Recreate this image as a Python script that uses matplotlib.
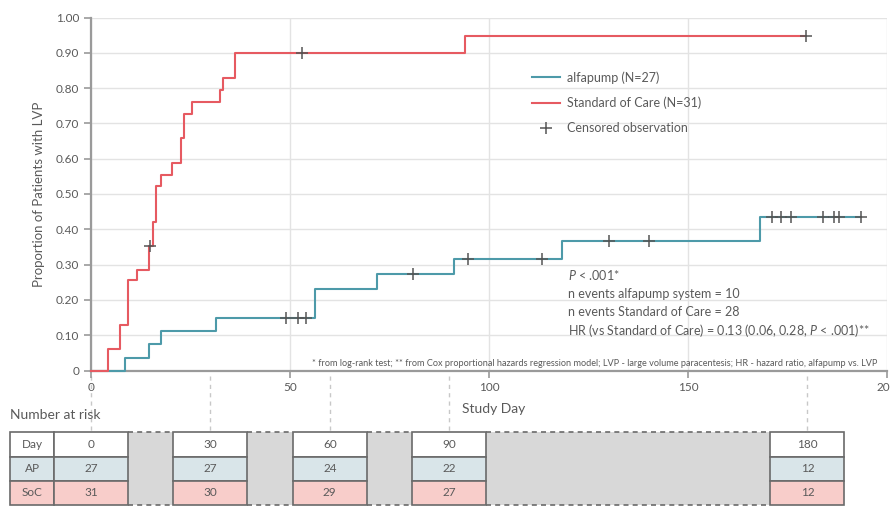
import numpy as np
import matplotlib
matplotlib.use("Agg")
from matplotlib import pyplot as plt
from matplotlib.patches import Rectangle
from matplotlib.lines import Line2D
from matplotlib import transforms

plt.rcParams['font.family'] = ['Lato', 'DejaVu Sans']
plt.rcParams['mathtext.fontset'] = 'custom'
plt.rcParams['mathtext.it'] = 'Lato:italic'
plt.rcParams['mathtext.rm'] = 'Lato'

# cumulative proportion with LVP (step values)
soc_t = [0, 4.3, 7.4, 9.4, 11.5, 14.6, 15.6, 16.3, 17.6, 20.4, 22.6, 23.4, 25.4, 32.4, 33.2, 36.3, 93.9, 179.6]
soc_p = [0, 0.062, 0.128, 0.256, 0.286, 0.352, 0.421, 0.524, 0.555, 0.588, 0.659, 0.727, 0.762, 0.795, 0.828, 0.900, 0.949, 0.949]
soc_cens = [14.9, 52.9, 179.6]

ap_t = [0, 8.5, 14.6, 17.7, 31.3, 56.4, 71.9, 91.3, 118.3, 168.1, 193.4]
ap_p = [0, 0.035, 0.074, 0.111, 0.148, 0.231, 0.273, 0.315, 0.368, 0.434, 0.434]
ap_cens = [49.1, 52.0, 54.1, 80.9, 94.7, 113.2, 130.2, 140.1, 171.1, 173.3, 175.8, 183.8, 186.7, 188.0, 193.4]

# number at risk
risk_days = [0, 30, 60, 90, 180]
ap_risk = [27, 27, 24, 22, 12]
soc_risk = [31, 30, 29, 27, 12]

RED = '#e65a61'
TEAL = '#4d9aa9'
TXT = '#5a5a5a'
AXC = '#9a9a9a'


def step_value(t, times, vals):
    i = np.searchsorted(times, t, side='right') - 1
    return vals[i]


fig = plt.figure(figsize=(8.9, 5.09), dpi=100)
W, H = 890.0, 509.0
ax = fig.add_axes([91 / W, 1 - 370.5 / H, (887 - 91) / W, (370.5 - 17.5) / H])

ax.step(ap_t, ap_p, where='post', color=TEAL, lw=1.5, zorder=3, clip_on=False)
ax.step(soc_t, soc_p, where='post', color=RED, lw=1.5, zorder=4, clip_on=False)
ax.plot(ap_cens, [step_value(t, ap_t, ap_p) for t in ap_cens], ls='none', marker='+',
        ms=8, mew=1.1, color='#555555', zorder=5)
ax.plot(soc_cens, [step_value(t, soc_t, soc_p) for t in soc_cens], ls='none', marker='+',
        ms=8, mew=1.1, color='#555555', zorder=5)

ax.set_xlim(0, 200)
ax.set_ylim(0, 1.0)
ax.set_yticks(np.arange(0, 1.01, 0.1))
ax.set_yticklabels(['0'] + ['%.2f' % v for v in np.arange(0.1, 1.01, 0.1)])
ax.set_xticks([0, 50, 100, 150, 200])
ax.grid(axis='y', color='#e3e3e3', lw=1, zorder=0)
ax.grid(axis='x', color='#e3e3e3', lw=1, zorder=0)
for s in ['top', 'right']:
    ax.spines[s].set_visible(False)
for s in ['left', 'bottom']:
    ax.spines[s].set_color(AXC)
    ax.spines[s].set_linewidth(1.6)
ax.tick_params(colors=AXC, labelcolor=TXT, labelsize=8.5, length=5, width=1.2)
ax.set_xlabel('Study Day', color=TXT, fontsize=10, labelpad=0)
ax.xaxis.set_label_coords((494 - 91) / (887 - 91), -32.5 / (370.5 - 17.5))
ax.set_ylabel('Proportion of Patients with LVP', color=TXT, fontsize=9.5, labelpad=8)

handles = [Line2D([], [], color=TEAL, lw=1.5),
           Line2D([], [], color=RED, lw=1.5),
           Line2D([], [], ls='none', marker='+', ms=8, mew=1.1, color='#555555')]
labels = ['alfapump (N=27)', 'Standard of Care (N=31)', 'Censored observation']
leg = ax.legend(handles, labels, loc='upper left', frameon=False, fontsize=9,
                bbox_to_anchor=((527 - 91) / (887 - 91), 1 - (66 - 17.5) / (370.5 - 17.5)),
                handlelength=2.2, handletextpad=0.6, labelspacing=1.05, borderaxespad=0)
for t in leg.get_texts():
    t.set_color(TXT)

stats = [r'$\mathit{P}$ < .001*',
         'n events alfapump system = 10',
         'n events Standard of Care = 28',
         r'HR (vs Standard of Care) = 0.13 (0.06, 0.28, $\mathit{P}$ < .001)**']
for i, s in enumerate(stats):
    fig.text(568 / W, 1 - (275 + 18.5 * i) / H, s, color=TXT, fontsize=9, va='center')

fig.text(877 / W, 1 - 363 / H,
         '* from log-rank test; ** from Cox proportional hazards regression model; '
         'LVP - large volume paracentesis; HR - hazard ratio, alfapump vs. LVP',
         color=TXT, fontsize=6.6, ha='right', va='center')

# number-at-risk table, x in study days, y in figure fraction
tr = transforms.blended_transform_factory(ax.transData, fig.transFigure)
fig.text(10 / W, 1 - 415 / H, 'Number at risk', color=TXT, fontsize=10, va='center')

rows_y = [1 - 432 / H, 1 - 457 / H, 1 - 481 / H, 1 - 505 / H]
row_fill = ['white', '#d9e5e9', '#f8cdca']
row_names = ['Day', 'AP', 'SoC']
row_vals = [risk_days, ap_risk, soc_risk]
hw = 9.3
edge = '#6a6a6a'

for d in risk_days:
    ax.plot([d, d], [1 - 376 / H, rows_y[0]], transform=tr, clip_on=False,
            color='#c8c8c8', lw=1, ls=(0, (3, 3)), zorder=1)

# gray gaps between the boxes
gaps = [(risk_days[i] + hw, risk_days[i + 1] - hw) for i in range(len(risk_days) - 1)]
for a, b in gaps:
    ax.add_patch(Rectangle((a, rows_y[3]), b - a, rows_y[0] - rows_y[3], transform=tr,
                           facecolor='#d8d8d8', edgecolor='none', clip_on=False, zorder=1))
    for yy in [rows_y[0], rows_y[3]]:
        ax.plot([a, b], [yy, yy], transform=tr, clip_on=False, color=edge, lw=1.2,
                ls=(0, (3, 2.5)), zorder=2)

label_x0 = -20.3
for r in range(3):
    y0, y1 = rows_y[r + 1], rows_y[r]
    ax.add_patch(Rectangle((label_x0, y0), -hw - label_x0, y1 - y0, transform=tr,
                           facecolor=row_fill[r], edgecolor=edge, lw=1.2, clip_on=False, zorder=2))
    ax.text((label_x0 - hw) / 2, (y0 + y1) / 2, row_names[r], transform=tr, ha='center',
            va='center', color=TXT, fontsize=8.5)
    for d, v in zip(risk_days, row_vals[r]):
        ax.add_patch(Rectangle((d - hw, y0), 2 * hw, y1 - y0, transform=tr,
                               facecolor=row_fill[r], edgecolor=edge, lw=1.2, clip_on=False, zorder=2))
        ax.text(d, (y0 + y1) / 2, str(v), transform=tr, ha='center', va='center',
                color=TXT, fontsize=8.5)

fig.savefig('out.png', dpi=100)
